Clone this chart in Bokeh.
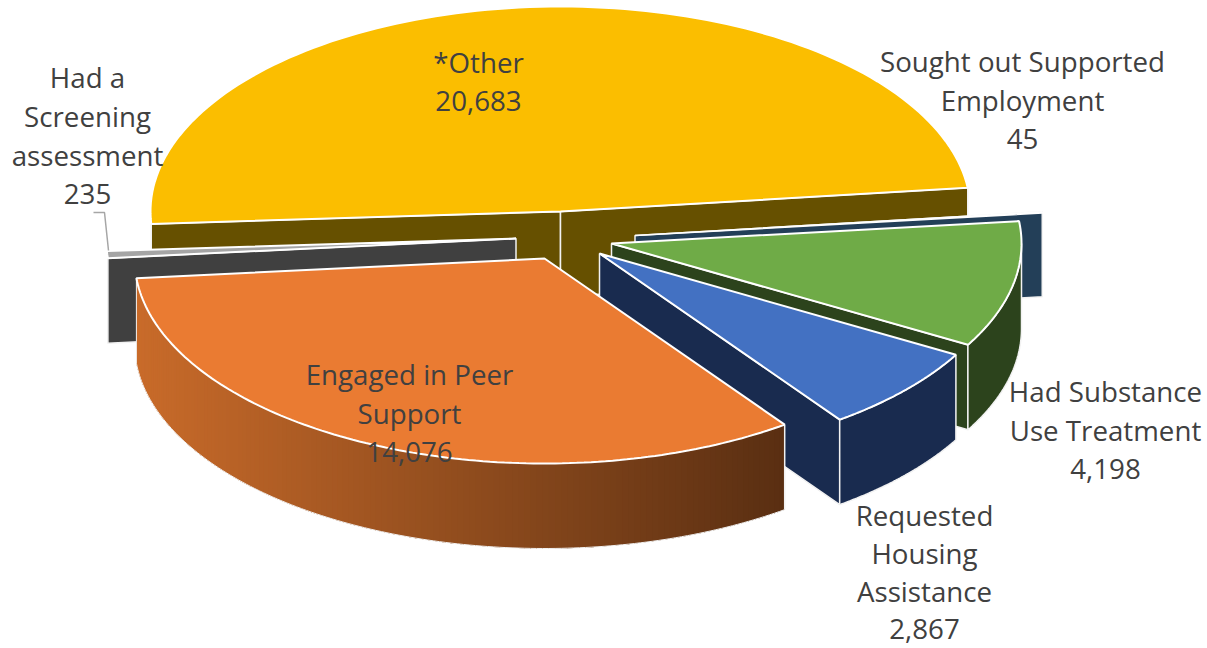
import numpy as np
from bokeh.plotting import figure
from bokeh.models import Range1d
from bokeh.embed import file_html
from bokeh.resources import INLINE
from bokeh.core.properties import value

categories = ["*Other", "Sought out Supported Employment", "Had Substance Use Treatment",
              "Requested Housing Assistance", "Engaged in Peer Support", "Had a Screening assessment"]
values = [20683, 45, 4198, 2867, 14076, 235]
value_labels = ["20,683", "45", "4,198", "2,867", "14,076", "235"]

top_colors = ["#FBBE00", "#264478", "#6FAB47", "#4371C2", "#EA7B32", "#A5A5A5"]
wall_colors = ["#665000", "#233F58", "#2C431C", "#192B4F", None, "#404040"]

# layout of the tilted pie (pixel space of the page)
RX, RY, DEPTH = 410.0, 205.0, 85.0
FIRST_ANGLE = -93.5
apex = [(560, 211), (634.5, 235), (611, 243), (599, 253), (544, 258), (515.5, 238)]
label_pos = [(478, 61, 39), (1022, 60, 39), (1105, 390, 39), (924, 514, 38.3), (409, 373, 39), (87, 76, 39)]
label_lines = [["*Other"], ["Sought out Supported", "Employment"], ["Had Substance", "Use Treatment"],
               ["Requested", "Housing", "Assistance"], ["Engaged in Peer", "Support"],
               ["Had a", "Screening", "assessment"]]

W, H = 1207, 648
p = figure(width=W, height=H, output_backend="svg", toolbar_location=None,
           x_range=Range1d(0, W), y_range=Range1d(H, 0), min_border=0)
p.axis.visible = False
p.grid.visible = False
p.outline_line_color = None

total = sum(values)
sweeps = [v / total * 360.0 for v in values]
starts = FIRST_ANGLE + np.cumsum([0] + sweeps[:-1])
ends = starts + np.array(sweeps)


def arc(c, a0, a1, n=120):
    t = np.radians(np.linspace(a0, a1, n))
    return c[0] + RX * np.sin(t), c[1] - RY * np.cos(t)


def lerp_hex(c0, c1, f):
    a = [int(c0[i:i + 2], 16) for i in (1, 3, 5)]
    b = [int(c1[i:i + 2], 16) for i in (1, 3, 5)]
    return "#%02x%02x%02x" % tuple(int(round(x + (y - x) * f)) for x, y in zip(a, b))


EDGE = "#f2f2f2"
order = [0, 1, 2, 3, 5, 4]
for i in order:
    c, a0, a1 = apex[i], starts[i], ends[i]
    # walls
    if i == 0:
        for ang in (a0, a1):
            x, y = arc(c, ang, ang, 1)
            p.patch([c[0], x[0], x[0], c[0]], [c[1], y[0], y[0] + DEPTH, c[1] + DEPTH],
                    fill_color=wall_colors[i], line_color=EDGE, line_width=1.5)
    elif i == 4:
        n = 140
        xs, ys = arc(c, a0, a1, n + 1)
        # from the dark right end to the left, each band running under the next one
        for k in range(n):
            e = min(k + 4, n)
            f = (xs[k] - xs.min()) / (xs.max() - xs.min())
            col = lerp_hex("#C96B2A", "#5A2F12", f)
            seg_x = list(xs[k:e + 1]) + list(xs[k:e + 1][::-1])
            seg_y = list(ys[k:e + 1]) + list((ys[k:e + 1] + DEPTH)[::-1])
            p.patch(seg_x, seg_y, fill_color=col, line_color=None)
        p.line(xs, ys + DEPTH, line_color=EDGE, line_width=1)
        p.line([xs[0], xs[0]], [ys[0], ys[0] + DEPTH], line_color=EDGE, line_width=1.5)
        p.line([xs[-1], xs[-1]], [ys[-1], ys[-1] + DEPTH], line_color=EDGE, line_width=1)
    else:
        wall_angle = a0 if i in (1, 5) else a1
        x, y = arc(c, wall_angle, wall_angle, 1)
        p.patch([c[0], x[0], x[0], c[0]], [c[1], y[0], y[0] + DEPTH, c[1] + DEPTH],
                fill_color=wall_colors[i], line_color=EDGE, line_width=1.5)
        lo, hi = max(a0, 90.0), a1
        if hi > lo and i in (2, 3):
            xs, ys = arc(c, lo, hi)
            p.patch(list(xs) + list(xs[::-1]), list(ys) + list((ys + DEPTH)[::-1]),
                    fill_color=wall_colors[i], line_color=EDGE, line_width=1.5)
    # top face
    xs, ys = arc(c, a0, a1)
    p.patch([c[0]] + list(xs), [c[1]] + list(ys), fill_color=top_colors[i],
            line_color="white", line_width=2 if i != 1 else 1.5)

# leader line of the smallest labelled slice
p.line([93, 104, 108], [212, 212, 250], line_color="#A6A6A6", line_width=1.5)

tx, ty, tt = [], [], []
for lines, val, (x, y, step) in zip(label_lines, value_labels, label_pos):
    for k, s in enumerate(lines + [val]):
        tx.append(x)
        ty.append(y + k * step)
        tt.append(s)
p.text(tx, ty, text=tt, text_font=value("Open Sans"), text_font_size="27.7px",
       text_color="#404040", text_align="center", text_baseline="middle")

open("out.html", "w").write(file_html(p, INLINE))
